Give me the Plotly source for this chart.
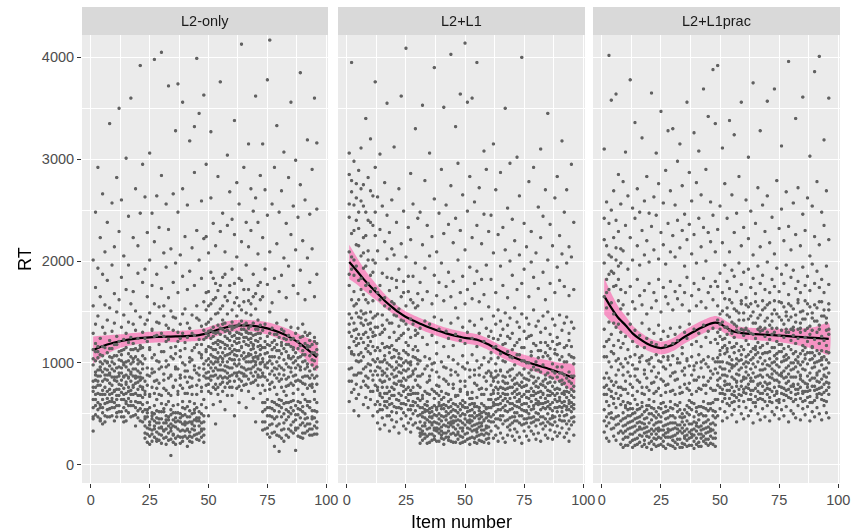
import plotly.graph_objects as go

# ---------------------------------------------------------------------------
# Reaction times (ms) per item, one row per item number 1..96, for each group
# ---------------------------------------------------------------------------
PANELS = ["L2-only", "L2+L1", "L2+L1prac"]

RT_L2_ONLY = [
    [980, 640, 470, 820, 1130, 1560, 2010, 720, 1290, 330, 560, 1040, 760, 450],
    [760, 1020, 580, 910, 1380, 2480, 690, 1190, 880, 1740, 640, 1110, 830, 490],
    [540, 870, 1050, 700, 1460, 1930, 820, 610, 2920, 1110, 930, 470, 780, 1160],
    [690, 930, 450, 1240, 1080, 780, 2230, 560, 1650, 960, 590, 1010, 870, 430],
    [820, 510, 1160, 730, 990, 1870, 640, 2660, 1350, 400, 690, 1070, 560, 910],
    [600, 880, 1020, 480, 1290, 760, 2090, 940, 1570, 690, 760, 1150, 420, 840],
    [930, 720, 540, 1100, 1420, 830, 650, 2380, 1810, 1010, 610, 1000, 880, 470],
    [470, 800, 1060, 620, 970, 1540, 3350, 740, 1220, 880, 900, 550, 1140, 690],
    [700, 1140, 560, 860, 1310, 940, 1960, 650, 2570, 1050, 480, 780, 1010, 620],
    [860, 610, 990, 430, 1180, 730, 1680, 920, 2140, 1390, 720, 1070, 560, 830],
    [580, 950, 740, 1070, 820, 1260, 510, 2820, 1500, 680, 860, 470, 1180, 640],
    [900, 680, 1210, 520, 1030, 790, 2290, 1620, 870, 3500, 580, 960, 740, 1110],
    [640, 1080, 830, 470, 950, 1350, 710, 1840, 1120, 2600, 900, 520, 780, 1020],
    [750, 560, 1000, 870, 1230, 640, 2050, 1470, 980, 420, 690, 1130, 470, 860],
    [880, 700, 530, 1150, 960, 1720, 810, 3010, 1290, 620, 1010, 600, 790, 430],
    [510, 930, 760, 1090, 650, 1400, 2440, 850, 1960, 1020, 860, 1200, 580, 720],
    [820, 620, 1130, 730, 990, 580, 1580, 3600, 910, 1250, 470, 890, 1060, 690],
    [690, 1040, 870, 480, 1190, 760, 2230, 1380, 940, 1700, 780, 580, 1010, 1130],
    [940, 560, 800, 1060, 700, 1320, 2710, 870, 1510, 380, 620, 1140, 490, 850],
    [610, 860, 1120, 740, 990, 1880, 530, 1240, 2150, 810, 1030, 680, 460, 920],
    [770, 1010, 550, 900, 1450, 680, 1170, 2470, 830, 3920, 610, 860, 1140, 430],
    [520, 850, 1070, 660, 1300, 940, 1790, 740, 2950, 1150, 760, 420, 990, 590],
    [380, 540, 260, 820, 1040, 1380, 450, 1920, 690, 2630, 310, 470, 720, 1240],
    [300, 470, 610, 950, 1210, 360, 1650, 2280, 780, 510, 220, 540, 880, 1420],
    [420, 280, 560, 870, 1130, 1490, 350, 2010, 3060, 670, 390, 200, 690, 1150],
    [510, 340, 230, 760, 1050, 1320, 450, 1760, 2470, 940, 300, 480, 900, 1330],
    [270, 430, 580, 910, 1260, 380, 1580, 2190, 700, 3980, 500, 350, 820, 1080],
    [460, 320, 640, 1020, 1400, 250, 1870, 530, 2640, 830, 230, 410, 750, 1270],
    [360, 520, 240, 800, 1180, 1550, 410, 2330, 690, 1010, 450, 300, 940, 1390],
    [290, 450, 600, 960, 1290, 370, 1730, 2840, 520, 4050, 360, 210, 680, 1110],
    [410, 260, 550, 890, 1110, 1460, 330, 2080, 750, 1260, 520, 340, 830, 1560],
    [480, 350, 200, 730, 1020, 1370, 590, 1940, 2560, 440, 270, 410, 960, 1210],
    [310, 470, 620, 980, 1230, 380, 1640, 2310, 850, 3720, 440, 240, 700, 1340],
    [250, 400, 540, 870, 1150, 1510, 330, 2120, 680, 90, 360, 490, 880, 1060],
    [440, 300, 580, 1040, 1320, 220, 1790, 2660, 770, 510, 290, 380, 760, 1450],
    [370, 510, 260, 830, 1090, 1440, 420, 1980, 3280, 960, 460, 200, 940, 1160],
    [280, 430, 590, 940, 1210, 350, 1690, 2480, 720, 3740, 350, 510, 690, 1300],
    [500, 330, 210, 780, 1060, 1380, 460, 2060, 880, 1240, 420, 270, 850, 1120],
    [340, 480, 620, 1000, 1290, 270, 1850, 2710, 560, 3560, 230, 400, 750, 1480],
    [420, 280, 550, 860, 1140, 1530, 390, 2240, 700, 980, 330, 490, 920, 1200],
    [260, 410, 570, 920, 1250, 340, 1720, 2550, 810, 180, 470, 350, 700, 1390],
    [470, 320, 620, 1010, 1340, 230, 1900, 530, 3180, 760, 280, 420, 860, 1050],
    [350, 500, 270, 850, 1120, 1470, 420, 2130, 690, 1030, 400, 220, 770, 1290],
    [290, 440, 600, 970, 1270, 380, 1760, 2870, 540, 3320, 510, 340, 930, 1150],
    [430, 300, 560, 900, 1180, 1560, 250, 2300, 780, 3990, 250, 460, 690, 1440],
    [380, 520, 240, 830, 1100, 1420, 460, 2010, 3450, 950, 430, 310, 880, 1230],
    [270, 410, 590, 1050, 1360, 330, 1830, 2590, 720, 1180, 350, 500, 760, 1080],
    [480, 350, 640, 990, 1230, 1600, 290, 2220, 870, 3630, 220, 420, 940, 1320],
    [780, 1020, 1250, 900, 1380, 560, 1690, 2240, 1130, 2950, 850, 1110, 1290, 1520],
    [910, 1160, 720, 1310, 1040, 1560, 2080, 480, 850, 1270, 980, 790, 1400, 1700],
    [1080, 830, 1240, 950, 700, 1430, 1890, 2620, 1150, 3270, 870, 1320, 1010, 1580],
    [760, 1190, 990, 1350, 870, 1620, 590, 2370, 1060, 1300, 1130, 920, 1260, 1830],
    [1010, 880, 1290, 740, 1130, 1480, 2150, 950, 400, 1780, 790, 1200, 1050, 1640],
    [850, 1220, 1040, 1370, 930, 690, 1710, 2830, 1180, 1010, 1100, 760, 1300, 1490],
    [1150, 790, 980, 1280, 1060, 1530, 2290, 870, 3760, 620, 930, 1210, 1340, 1760],
    [930, 1100, 720, 1330, 1200, 1010, 1840, 2470, 850, 1420, 810, 1040, 1380, 1560],
    [1070, 860, 1260, 970, 1390, 760, 1650, 2090, 540, 1180, 1140, 920, 1310, 1870],
    [800, 1170, 1010, 1320, 900, 1480, 2350, 1080, 3040, 680, 960, 1240, 850, 1610],
    [1220, 950, 1090, 760, 1360, 1140, 1760, 870, 2680, 1290, 1040, 820, 1300, 1690],
    [880, 1260, 1030, 1400, 950, 680, 1920, 2410, 1170, 1330, 760, 1110, 1360, 1520],
    [1130, 820, 1210, 990, 1350, 1080, 1590, 2260, 480, 3380, 900, 1270, 1030, 1780],
    [970, 1190, 750, 1300, 1070, 1460, 2040, 900, 1240, 2770, 1120, 870, 1360, 1640],
    [1240, 910, 1120, 1380, 840, 1030, 1830, 2560, 1290, 610, 990, 1200, 770, 1560],
    [820, 1070, 1280, 960, 1410, 1160, 2190, 4130, 730, 1520, 1150, 900, 1330, 1810],
    [1100, 950, 1330, 780, 1210, 1040, 1720, 2920, 1370, 890, 870, 1250, 1040, 1600],
    [930, 1250, 1060, 1390, 870, 1180, 1960, 2380, 560, 1310, 1010, 790, 1300, 1490],
    [1170, 840, 1290, 1010, 1340, 720, 1610, 2140, 1090, 3150, 940, 1230, 1070, 1720],
    [1010, 1200, 900, 1360, 1130, 1470, 2300, 800, 1240, 2710, 1080, 940, 1290, 1580],
    [870, 1140, 1270, 960, 650, 1390, 1870, 2490, 1050, 1180, 1170, 810, 1020, 1650],
    [1220, 980, 1100, 830, 1330, 1010, 1680, 2620, 420, 3620, 910, 1280, 1060, 1530],
    [940, 1160, 780, 1290, 1060, 1420, 2070, 880, 1210, 2380, 1040, 1330, 860, 1760],
    [1080, 860, 1240, 1000, 1370, 700, 1790, 2840, 1130, 990, 930, 1170, 1290, 1620],
    [420, 900, 1150, 610, 1320, 780, 1650, 2230, 1040, 3150, 520, 340, 1010, 870],
    [350, 980, 1210, 540, 860, 1380, 1920, 2700, 730, 1090, 420, 610, 1150, 960],
    [480, 830, 1100, 300, 1260, 640, 1770, 2450, 950, 3780, 360, 560, 1000, 1180],
    [560, 1020, 1290, 390, 890, 1170, 2090, 4170, 740, 1500, 480, 270, 790, 1060],
    [310, 920, 1130, 620, 1340, 810, 1590, 2560, 470, 1060, 550, 400, 1200, 990],
    [450, 1060, 760, 1220, 530, 950, 1830, 2920, 1150, 180, 320, 610, 880, 1280],
    [380, 850, 1180, 590, 1010, 1390, 2170, 690, 1280, 3330, 470, 290, 940, 1120],
    [520, 970, 1250, 280, 820, 1120, 1700, 2480, 640, 130, 400, 580, 1050, 890],
    [340, 1090, 760, 1200, 470, 950, 1860, 2690, 1330, 560, 630, 260, 1170, 840],
    [600, 880, 1140, 410, 1030, 1310, 2030, 3070, 720, 230, 350, 500, 930, 1240],
    [290, 990, 1230, 540, 840, 1110, 1640, 2370, 680, 1420, 440, 610, 1180, 770],
    [470, 1070, 780, 1180, 350, 960, 1950, 2820, 1270, 610, 270, 520, 860, 1050],
    [390, 910, 1160, 620, 1040, 1350, 2260, 500, 3560, 800, 560, 330, 1230, 950],
    [530, 1000, 1240, 310, 870, 1130, 1760, 2540, 700, 1060, 420, 630, 780, 1150],
    [440, 820, 1100, 580, 1290, 950, 2110, 2990, 360, 140, 340, 490, 1020, 880],
    [360, 1050, 740, 1210, 490, 980, 1680, 2430, 1340, 620, 550, 280, 1140, 830],
    [610, 930, 1170, 270, 1060, 820, 1910, 2750, 540, 3850, 390, 460, 960, 1250],
    [410, 860, 1260, 570, 1010, 1380, 2200, 690, 310, 1120, 260, 520, 800, 1080],
    [500, 1080, 790, 1190, 380, 940, 1620, 2600, 1300, 640, 450, 310, 1020, 870],
    [330, 990, 1150, 620, 870, 1270, 2030, 3190, 460, 750, 580, 400, 1170, 960],
    [560, 920, 1220, 400, 1070, 780, 1790, 2460, 290, 1160, 350, 620, 850, 1290],
    [450, 1030, 760, 1180, 530, 880, 2120, 2900, 350, 980, 470, 290, 1100, 790],
    [380, 850, 1100, 640, 1250, 460, 1650, 3600, 720, 1020, 300, 530, 940, 1210],
    [520, 960, 1190, 300, 790, 1080, 1870, 2510, 610, 3160, 420, 360, 870, 1130],
]

RT_L2_L1 = [
    [820, 1150, 1480, 1760, 2090, 2430, 2850, 620, 1300, 3060, 940, 1380, 1870, 2560],
    [950, 1260, 1620, 1920, 2270, 2680, 710, 1090, 3950, 1440, 1110, 820, 2040, 2790],
    [740, 1080, 1390, 1700, 2010, 2550, 2980, 530, 1210, 1860, 880, 1320, 1560, 2300],
    [1020, 1330, 1580, 880, 2160, 2760, 650, 1170, 2400, 1490, 790, 1240, 1950, 2620],
    [690, 1190, 1450, 1810, 2320, 1010, 2890, 480, 1620, 1280, 1080, 900, 2150, 2480],
    [900, 1240, 1510, 2050, 2590, 760, 1100, 1390, 3110, 1720, 1020, 1440, 1830, 2710],
    [1060, 820, 1370, 1670, 2230, 2750, 590, 1200, 1930, 1480, 940, 1280, 2080, 2540],
    [780, 1140, 1420, 1950, 2480, 960, 1300, 3400, 660, 1620, 870, 1490, 1760, 2250],
    [990, 1250, 850, 1590, 2100, 2820, 1170, 560, 1380, 1780, 1110, 760, 2010, 2400],
    [720, 1090, 1330, 1860, 2380, 920, 1500, 3200, 640, 1210, 980, 1390, 1700, 2690],
    [880, 1160, 1440, 720, 2010, 2640, 1030, 480, 1610, 1300, 830, 1260, 1890, 2350],
    [1010, 780, 1270, 1730, 2250, 2920, 590, 1120, 1460, 3760, 920, 1350, 1980, 2480],
    [620, 880, 1040, 760, 1350, 1690, 2100, 2630, 410, 1150, 520, 960, 730, 1480],
    [540, 950, 1120, 700, 1280, 1760, 2310, 350, 830, 3050, 680, 1010, 590, 1620],
    [810, 660, 1010, 1190, 1470, 1880, 2540, 460, 920, 1300, 540, 880, 760, 1370],
    [700, 1070, 580, 900, 1330, 1640, 2190, 2770, 390, 1150, 820, 620, 1030, 1560],
    [870, 620, 1160, 760, 1420, 2020, 2450, 480, 1000, 3550, 560, 940, 700, 1840],
    [590, 980, 720, 1100, 1250, 1710, 2280, 330, 840, 1530, 650, 1150, 480, 1390],
    [760, 520, 1050, 890, 1390, 1830, 2600, 440, 680, 2120, 960, 600, 1170, 1600],
    [930, 680, 570, 1130, 1300, 1580, 2060, 3120, 370, 800, 740, 860, 1060, 1470],
    [640, 1010, 790, 510, 1220, 1740, 2380, 420, 950, 1460, 870, 560, 1120, 1810],
    [820, 560, 1090, 700, 1360, 1920, 2710, 310, 980, 1240, 630, 910, 1050, 1530],
    [550, 900, 680, 1040, 1270, 1650, 2170, 450, 780, 3620, 970, 600, 820, 1420],
    [720, 1120, 600, 850, 1410, 1800, 2490, 380, 1000, 1290, 510, 930, 770, 1690],
    [480, 830, 1020, 660, 1200, 1560, 2040, 4090, 350, 920, 740, 590, 1100, 1380],
    [690, 540, 940, 1080, 1330, 1700, 2330, 410, 760, 1170, 860, 630, 1000, 1850],
    [580, 870, 450, 1010, 1250, 1620, 2210, 2860, 320, 730, 690, 980, 540, 1430],
    [760, 620, 1060, 500, 1380, 1850, 2560, 390, 890, 1130, 920, 700, 580, 1590],
    [530, 940, 700, 410, 1160, 1540, 1980, 3300, 830, 1270, 610, 830, 1050, 1320],
    [650, 480, 870, 1030, 1290, 1680, 2420, 360, 580, 990, 780, 1120, 700, 1560],
    [420, 280, 560, 350, 760, 1020, 1340, 1790, 2480, 630, 490, 310, 210, 870],
    [330, 510, 240, 470, 890, 680, 1250, 1620, 2160, 3530, 380, 560, 300, 650],
    [460, 300, 590, 380, 720, 1060, 1410, 1930, 2790, 540, 260, 410, 520, 940],
    [280, 440, 350, 530, 810, 970, 1180, 1700, 2350, 620, 440, 210, 580, 700],
    [510, 360, 220, 420, 690, 1040, 1380, 2050, 3060, 870, 300, 470, 550, 830],
    [390, 560, 300, 470, 930, 740, 1270, 1580, 2240, 460, 520, 240, 410, 990],
    [250, 420, 580, 340, 650, 1000, 1450, 1860, 2610, 3900, 360, 490, 280, 720],
    [480, 330, 410, 560, 780, 1090, 1200, 1660, 2090, 700, 230, 540, 360, 910],
    [350, 230, 500, 610, 860, 680, 1330, 1790, 2470, 400, 450, 310, 580, 770],
    [430, 290, 550, 370, 720, 1010, 1420, 1980, 2900, 580, 260, 480, 330, 640],
    [310, 470, 200, 590, 840, 660, 1160, 1610, 2270, 3510, 390, 550, 250, 960],
    [520, 380, 270, 440, 700, 950, 1310, 1750, 2550, 480, 310, 440, 580, 820],
    [240, 410, 560, 330, 790, 1060, 1240, 1890, 2360, 620, 500, 270, 370, 690],
    [460, 300, 390, 520, 640, 880, 1390, 1650, 2740, 4030, 230, 420, 570, 930],
    [370, 220, 480, 600, 750, 1030, 1170, 1800, 2180, 430, 310, 540, 410, 790],
    [290, 530, 350, 430, 910, 670, 1280, 1540, 2420, 3320, 470, 220, 590, 680],
    [440, 320, 570, 250, 680, 990, 1440, 2010, 2960, 510, 390, 510, 300, 880],
    [360, 480, 210, 540, 820, 720, 1220, 1690, 2300, 3640, 280, 430, 600, 740],
    [500, 270, 410, 330, 630, 1070, 1350, 1850, 2650, 580, 360, 570, 220, 960],
    [230, 390, 560, 450, 770, 940, 1190, 1580, 2110, 4140, 490, 300, 610, 820],
    [420, 310, 520, 360, 690, 1000, 1300, 1720, 2490, 3560, 250, 560, 430, 710],
    [350, 480, 260, 590, 860, 650, 1410, 1940, 2830, 440, 410, 200, 530, 930],
    [270, 430, 540, 380, 710, 1080, 1240, 1630, 2230, 3600, 330, 480, 600, 650],
    [510, 340, 220, 460, 800, 930, 1370, 1780, 2580, 600, 260, 390, 570, 880],
    [400, 280, 570, 320, 660, 1020, 1160, 1900, 2350, 3950, 480, 350, 210, 780],
    [290, 450, 370, 530, 880, 740, 1290, 1600, 2720, 490, 560, 240, 410, 950],
    [470, 230, 410, 600, 750, 980, 1430, 1820, 2170, 340, 300, 510, 380, 690],
    [340, 520, 290, 440, 690, 1050, 1210, 1670, 2460, 3080, 430, 220, 580, 860],
    [250, 380, 500, 360, 820, 900, 1340, 1960, 2900, 560, 310, 460, 550, 740],
    [430, 300, 560, 210, 640, 1010, 1260, 1550, 2290, 480, 370, 500, 260, 920],
    [330, 470, 560, 690, 780, 900, 1040, 1310, 1820, 2450, 420, 640, 870, 1100],
    [260, 420, 610, 730, 850, 580, 1150, 1460, 2080, 3150, 490, 700, 820, 1240],
    [380, 290, 520, 640, 920, 760, 990, 1380, 1690, 2700, 450, 590, 860, 1160],
    [450, 230, 700, 590, 810, 880, 1230, 1520, 2260, 540, 360, 650, 740, 1050],
    [310, 480, 540, 670, 760, 930, 1090, 1410, 1950, 2870, 600, 440, 920, 1270],
    [400, 260, 630, 820, 700, 560, 1180, 1330, 1760, 2330, 480, 750, 870, 1020],
    [220, 430, 580, 740, 860, 650, 1010, 1490, 2110, 3500, 530, 690, 800, 1190],
    [370, 290, 690, 520, 910, 800, 1260, 1370, 1640, 2520, 440, 620, 750, 1110],
    [460, 340, 600, 760, 650, 870, 1060, 1440, 2000, 2960, 390, 540, 930, 1240],
    [280, 410, 550, 700, 830, 940, 1130, 1290, 1860, 2410, 600, 470, 760, 1050],
    [350, 240, 660, 580, 790, 720, 980, 1540, 2200, 470, 510, 850, 430, 1170],
    [430, 320, 510, 740, 880, 620, 1200, 1400, 1720, 3020, 570, 690, 800, 1080],
    [270, 480, 640, 560, 700, 900, 1080, 1350, 2060, 2640, 410, 780, 620, 1230],
    [390, 210, 590, 810, 670, 760, 1150, 1480, 1780, 4000, 480, 540, 880, 1020],
    [330, 450, 530, 690, 850, 940, 1020, 1310, 1920, 2370, 600, 400, 770, 1150],
    [410, 280, 720, 600, 780, 660, 1240, 1440, 2140, 520, 450, 840, 530, 1000],
    [240, 370, 570, 650, 900, 830, 1000, 1380, 1650, 2780, 500, 720, 460, 1260],
    [460, 330, 620, 750, 540, 870, 1110, 1270, 1990, 2290, 410, 680, 930, 1070],
    [300, 420, 680, 580, 720, 800, 960, 1520, 1840, 2920, 550, 470, 860, 1190],
    [380, 250, 510, 640, 930, 770, 1170, 1360, 2080, 600, 440, 700, 820, 1010],
    [440, 310, 590, 710, 620, 850, 1050, 1410, 1730, 2530, 500, 760, 930, 1120],
    [230, 400, 660, 540, 790, 910, 1120, 1300, 2230, 3100, 470, 600, 720, 1200],
    [350, 470, 700, 600, 820, 690, 980, 1460, 1890, 2440, 560, 410, 780, 1060],
    [290, 380, 550, 760, 650, 880, 1200, 1340, 1620, 2700, 450, 610, 840, 1100],
    [420, 260, 620, 730, 570, 800, 1070, 1500, 2010, 3450, 500, 680, 900, 1170],
    [340, 450, 680, 590, 860, 720, 1140, 1280, 1780, 2360, 400, 550, 810, 1040],
    [250, 390, 530, 700, 770, 920, 990, 1430, 2150, 480, 610, 460, 850, 1210],
    [470, 320, 640, 560, 810, 680, 1090, 1370, 1690, 2620, 420, 740, 900, 1130],
    [380, 280, 700, 620, 750, 860, 1180, 1250, 1940, 2830, 520, 560, 960, 1080],
    [310, 440, 570, 740, 660, 900, 1030, 1470, 1810, 2250, 480, 820, 630, 1190],
    [430, 360, 610, 520, 790, 830, 960, 1320, 2070, 3180, 560, 700, 900, 1060],
    [270, 480, 690, 580, 720, 880, 1150, 1390, 1750, 2480, 430, 620, 800, 1010],
    [400, 310, 540, 660, 850, 760, 1010, 1450, 1980, 2700, 490, 720, 570, 1170],
    [350, 230, 630, 710, 600, 910, 1220, 1290, 1660, 2140, 430, 820, 540, 1080],
    [460, 390, 570, 800, 680, 740, 1060, 1400, 2040, 2950, 520, 610, 870, 1160],
    [290, 420, 660, 550, 770, 870, 990, 1340, 1720, 2380, 470, 590, 720, 1050],
]

RT_L2_L1PRAC = [
    [320, 540, 690, 850, 1060, 1330, 1650, 1980, 2420, 3100, 430, 760, 1160, 2210],
    [260, 470, 620, 900, 780, 1210, 1540, 2150, 2580, 1820, 380, 690, 1060, 1690],
    [410, 230, 580, 740, 1010, 1400, 1720, 2060, 2370, 4020, 500, 850, 1230, 1870],
    [350, 510, 670, 820, 960, 1280, 1590, 1900, 2500, 3580, 460, 720, 1110, 2040],
    [280, 450, 600, 780, 1090, 1170, 1480, 2230, 2690, 1880, 360, 650, 1390, 1750],
    [390, 560, 240, 880, 700, 1350, 1760, 2010, 2400, 3640, 470, 810, 1020, 2130],
    [310, 480, 650, 930, 1040, 1220, 1610, 1950, 2290, 2850, 400, 760, 1380, 1820],
    [200, 430, 590, 760, 990, 1300, 1530, 2120, 2560, 1720, 330, 680, 1150, 1980],
    [250, 380, 510, 620, 740, 960, 1190, 1570, 2100, 2780, 310, 450, 170, 880],
    [330, 190, 460, 580, 820, 1040, 1260, 1690, 2350, 3070, 270, 390, 560, 740],
    [410, 270, 540, 350, 700, 910, 1130, 1480, 1920, 2640, 190, 480, 610, 1000],
    [220, 360, 480, 600, 790, 1060, 1380, 1750, 2230, 3780, 300, 420, 550, 870],
    [300, 430, 170, 550, 680, 980, 1210, 1600, 2010, 2520, 370, 240, 500, 760],
    [380, 250, 510, 640, 870, 1080, 1320, 1530, 2420, 3360, 190, 320, 450, 940],
    [200, 340, 460, 590, 720, 940, 1160, 1820, 2150, 2710, 410, 260, 540, 830],
    [290, 420, 550, 370, 810, 1010, 1270, 1660, 1960, 2480, 220, 350, 470, 1050],
    [350, 180, 490, 610, 760, 1070, 1390, 1570, 2300, 3210, 280, 410, 570, 700],
    [240, 400, 520, 310, 690, 930, 1150, 1710, 2060, 2590, 450, 200, 360, 890],
    [370, 280, 460, 580, 850, 1020, 1240, 1480, 2200, 2830, 320, 170, 540, 760],
    [210, 330, 500, 640, 730, 990, 1330, 1780, 1990, 2470, 270, 410, 580, 1030],
    [300, 440, 150, 560, 800, 1050, 1200, 1540, 2340, 3650, 350, 230, 500, 920],
    [390, 260, 480, 620, 700, 960, 1290, 1690, 2110, 2630, 200, 330, 550, 810],
    [180, 350, 520, 410, 860, 1080, 1180, 1610, 2450, 3060, 300, 460, 250, 720],
    [270, 420, 560, 330, 750, 900, 1370, 1820, 2020, 2760, 190, 360, 490, 1020],
    [340, 200, 470, 600, 680, 1010, 1230, 1500, 2280, 3470, 260, 420, 550, 840],
    [230, 380, 510, 290, 820, 1060, 1310, 1740, 2160, 2570, 340, 180, 610, 960],
    [310, 450, 160, 570, 710, 940, 1170, 1650, 1970, 2890, 270, 390, 520, 780],
    [400, 270, 530, 350, 790, 1030, 1260, 1580, 2370, 3280, 200, 320, 460, 1060],
    [190, 340, 480, 620, 870, 980, 1340, 1800, 2090, 2690, 410, 270, 560, 720],
    [280, 410, 550, 240, 730, 1070, 1190, 1520, 2250, 3300, 180, 350, 480, 900],
    [360, 220, 460, 590, 690, 910, 1280, 1700, 2040, 2550, 290, 410, 160, 830],
    [250, 390, 520, 310, 840, 1040, 1220, 1630, 2400, 2980, 350, 200, 580, 1000],
    [330, 170, 470, 610, 760, 1000, 1350, 1760, 2130, 3150, 250, 390, 540, 700],
    [210, 360, 500, 420, 710, 1090, 1150, 1570, 2300, 2740, 310, 170, 460, 920],
    [390, 280, 540, 260, 880, 950, 1300, 1690, 1950, 2460, 200, 330, 470, 790],
    [240, 430, 580, 350, 750, 1020, 1240, 1840, 2210, 3560, 290, 180, 510, 1040],
    [320, 190, 490, 630, 800, 970, 1380, 1510, 2360, 2870, 400, 260, 560, 730],
    [270, 400, 540, 300, 690, 1060, 1180, 1660, 2070, 2590, 190, 340, 610, 880],
    [350, 230, 470, 600, 830, 930, 1330, 1780, 2260, 3260, 290, 420, 160, 970],
    [200, 380, 520, 410, 720, 1000, 1210, 1560, 1980, 2770, 260, 330, 560, 830],
    [300, 440, 180, 570, 860, 1080, 1290, 1720, 2420, 3080, 220, 370, 490, 750],
    [380, 260, 500, 340, 740, 950, 1160, 1600, 2140, 2650, 300, 180, 570, 1010],
    [230, 350, 560, 620, 780, 1030, 1370, 1830, 2330, 3690, 410, 280, 480, 860],
    [310, 420, 210, 480, 700, 990, 1250, 1540, 2000, 2900, 250, 360, 550, 780],
    [370, 250, 530, 600, 820, 1060, 1310, 1690, 2280, 3420, 190, 320, 440, 960],
    [280, 400, 550, 330, 750, 920, 1200, 1750, 2190, 2580, 350, 210, 600, 850],
    [340, 200, 480, 610, 890, 1040, 1340, 1620, 2450, 3880, 260, 410, 530, 730],
    [260, 390, 520, 640, 730, 1010, 1230, 1800, 2090, 3350, 310, 180, 460, 940],
    [640, 780, 900, 1050, 1190, 480, 1420, 1750, 2310, 3920, 830, 1010, 1300, 1560],
    [700, 850, 960, 1120, 1260, 550, 1380, 1880, 2540, 1010, 760, 1080, 1330, 1480],
    [620, 740, 1010, 880, 1230, 430, 1510, 1690, 2180, 3110, 940, 1150, 700, 1400],
    [690, 820, 940, 1090, 1170, 520, 1350, 1960, 2760, 780, 880, 1240, 650, 1630],
    [730, 600, 1000, 870, 1280, 460, 1470, 1800, 2420, 1140, 790, 1110, 1350, 1540],
    [650, 790, 920, 1060, 1200, 580, 1620, 1730, 2090, 3380, 730, 990, 1320, 1450],
    [610, 860, 1030, 760, 1150, 490, 1400, 1910, 2650, 980, 950, 690, 1290, 1590],
    [720, 680, 970, 1100, 1250, 540, 1530, 1850, 2280, 3240, 840, 1160, 620, 1380],
    [660, 810, 890, 1040, 1190, 420, 1360, 1700, 2470, 820, 770, 990, 1320, 1510],
    [740, 630, 1020, 930, 1300, 570, 1490, 1980, 2830, 1120, 880, 1120, 690, 1420],
    [680, 770, 950, 1080, 1160, 500, 1580, 1770, 2150, 3560, 820, 1030, 1330, 1610],
    [620, 840, 990, 860, 1270, 450, 1420, 1890, 2330, 740, 710, 1130, 1320, 1490],
    [700, 760, 910, 1060, 1220, 560, 1330, 1640, 2600, 1010, 850, 960, 1340, 1570],
    [640, 880, 1000, 790, 1180, 480, 1550, 1920, 2220, 3020, 750, 1080, 1310, 1430],
    [730, 690, 940, 1110, 1290, 530, 1460, 1740, 2490, 850, 820, 1030, 640, 1580],
    [610, 820, 1050, 900, 1140, 410, 1390, 1830, 2060, 3750, 730, 990, 1280, 1500],
    [670, 750, 960, 1080, 1240, 570, 1600, 1680, 2370, 1160, 860, 1130, 610, 1390],
    [720, 640, 1010, 870, 1200, 500, 1440, 1950, 2720, 780, 790, 1100, 1330, 1560],
    [650, 800, 930, 1050, 1310, 440, 1350, 1780, 2140, 3280, 880, 1150, 700, 1470],
    [700, 860, 990, 770, 1170, 550, 1520, 1860, 2550, 1090, 640, 930, 1320, 1610],
    [620, 730, 1020, 940, 1260, 470, 1410, 1720, 2290, 940, 810, 1100, 1340, 1540],
    [690, 790, 880, 1100, 1190, 580, 1570, 1990, 2640, 3570, 750, 980, 1300, 1440],
    [740, 660, 970, 1040, 1230, 430, 1370, 1690, 2180, 800, 860, 1110, 620, 1590],
    [610, 850, 1000, 890, 1280, 520, 1480, 1820, 2430, 1150, 720, 940, 1340, 1410],
    [680, 760, 920, 1070, 1150, 490, 1610, 1750, 2070, 3690, 830, 1010, 1300, 1520],
    [720, 630, 1040, 830, 1210, 560, 1340, 1930, 2790, 980, 900, 1090, 700, 1480],
    [640, 810, 960, 1110, 1270, 450, 1450, 1700, 2320, 770, 880, 1180, 610, 1600],
    [700, 870, 900, 1010, 1180, 540, 1590, 1870, 2510, 3130, 760, 1110, 1320, 1420],
    [630, 750, 1020, 920, 1250, 480, 1380, 1780, 2200, 1060, 850, 1140, 690, 1550],
    [730, 680, 950, 1080, 1300, 570, 1500, 1960, 2680, 860, 800, 1030, 1330, 1460],
    [660, 820, 890, 1050, 1160, 420, 1420, 1670, 2340, 3960, 740, 970, 1300, 1580],
    [710, 770, 1000, 860, 1220, 530, 1560, 1840, 2110, 1130, 650, 930, 1330, 1450],
    [620, 860, 940, 1090, 1270, 500, 1350, 1910, 2570, 790, 770, 1000, 1320, 1530],
    [690, 640, 1030, 960, 1190, 460, 1470, 1730, 2260, 3400, 860, 1110, 740, 1400],
    [740, 790, 910, 1060, 1240, 580, 1620, 1800, 2720, 1010, 700, 1000, 1330, 1590],
    [650, 840, 980, 880, 1300, 440, 1390, 1690, 2150, 870, 760, 1090, 1340, 1500],
    [700, 720, 1010, 1120, 1170, 550, 1510, 1940, 2460, 3610, 820, 940, 620, 1430],
    [630, 800, 930, 1040, 1250, 490, 1430, 1760, 2300, 1080, 720, 1150, 1320, 1610],
    [720, 660, 990, 870, 1210, 570, 1580, 1850, 2620, 760, 790, 1100, 1340, 1480],
    [670, 830, 900, 1100, 1280, 430, 1360, 1710, 2050, 3030, 730, 1030, 610, 1550],
    [610, 770, 1040, 950, 1160, 520, 1490, 1970, 2540, 1150, 850, 1100, 1320, 1440],
    [730, 850, 960, 1070, 1230, 470, 1410, 1780, 2240, 3860, 770, 1000, 630, 1570],
    [660, 690, 1010, 820, 1300, 560, 1540, 1900, 2780, 900, 880, 1120, 740, 1410],
    [700, 810, 920, 1090, 1190, 500, 1370, 1740, 2160, 4010, 750, 1020, 1330, 1600],
    [640, 760, 980, 1050, 1260, 440, 1600, 1820, 2480, 1030, 840, 1120, 690, 1460],
    [710, 870, 940, 880, 1220, 580, 1460, 1690, 2350, 3190, 790, 1060, 630, 1520],
    [620, 730, 1030, 1110, 1170, 510, 1390, 1950, 2690, 810, 860, 950, 1320, 1440],
    [690, 800, 900, 1000, 1280, 460, 1520, 1770, 2210, 3600, 760, 1100, 1330, 1580],
]

# Loess fit (ms) and its standard-error half width, evaluated on a grid of items
FIT_ITEMS = [1, 4, 7, 10, 13, 16, 19, 22, 25, 28, 31, 34, 38, 42, 46, 48,
             50, 53, 56, 60, 65, 70, 75, 80, 85, 90, 96]
FIT_L2_ONLY = [1125, 1155, 1180, 1200, 1215, 1228, 1238, 1245, 1250, 1254,
               1256, 1258, 1261, 1265, 1273, 1282, 1295, 1318, 1340, 1362,
               1368, 1360, 1338, 1300, 1245, 1170, 1055]
SE_L2_ONLY = [135, 110, 90, 75, 65, 60, 57, 55, 55, 55, 55, 55, 55, 55, 56,
              57, 58, 58, 57, 56, 55, 56, 60, 66, 76, 95, 135]
FIT_L2_L1 = [1990, 1910, 1825, 1750, 1680, 1610, 1550, 1495, 1450, 1415,
             1385, 1355, 1320, 1290, 1265, 1255, 1245, 1235, 1220, 1180,
             1115, 1060, 1015, 980, 945, 905, 850]
SE_L2_L1 = [170, 135, 110, 90, 75, 66, 60, 57, 55, 55, 55, 55, 55, 55, 55,
            55, 55, 55, 55, 55, 58, 60, 64, 70, 80, 95, 130]
FIT_L2_L1PRAC = [1655, 1540, 1440, 1370, 1290, 1235, 1190, 1160, 1145, 1160,
                 1190, 1240, 1295, 1345, 1385, 1395, 1385, 1340, 1305, 1290,
                 1282, 1275, 1268, 1260, 1252, 1245, 1235]
SE_L2_L1PRAC = [180, 140, 110, 90, 78, 70, 66, 64, 63, 63, 64, 65, 66, 66, 66,
                66, 65, 64, 62, 60, 60, 62, 66, 74, 88, 108, 155]

PANEL_DATA = [
    (RT_L2_ONLY, FIT_L2_ONLY, SE_L2_ONLY),
    (RT_L2_L1, FIT_L2_L1, SE_L2_L1),
    (RT_L2_L1PRAC, FIT_L2_L1PRAC, SE_L2_L1PRAC),
]

X_TICKS = [0, 25, 50, 75, 100]
Y_TICKS = [0, 1000, 2000, 3000, 4000]

# ---------------------------------------------------------------------------
# Layout geometry (ggplot2 grey theme look)
# ---------------------------------------------------------------------------
W, H = 856, 532
M_L, M_R, M_T, M_B = 82, 16, 7, 49
STRIP_H = 28
PLOT_W = W - M_L - M_R
PLOT_H = H - M_T - M_B
panel_px = [(82, 328), (338, 585), (593, 840)]
domains = [[(a - M_L) / PLOT_W, (b - M_L) / PLOT_W] for a, b in panel_px]
y_top = (PLOT_H - STRIP_H) / PLOT_H

FONT = "Liberation Sans, Arial, Helvetica, sans-serif"
POINT_COL = "#616161"
RIBBON_COL = "rgba(255, 50, 150, 0.48)"

fig = go.Figure()

for i, (rows, fit, se) in enumerate(PANEL_DATA):
    xa = "x" if i == 0 else f"x{i + 1}"
    ya = "y" if i == 0 else f"y{i + 1}"
    xs, ys = [], []
    for item, vals in enumerate(rows, start=1):
        xs.extend([item] * len(vals))
        ys.extend(vals)
    fig.add_trace(go.Scattergl(
        x=xs, y=ys, mode="markers", xaxis=xa, yaxis=ya,
        marker=dict(size=3.6, color=POINT_COL, line=dict(width=0)),
        hoverinfo="skip", showlegend=False,
    ))
    upper = [f + s for f, s in zip(fit, se)]
    lower = [f - s for f, s in zip(fit, se)]
    fig.add_trace(go.Scatter(
        x=FIT_ITEMS + FIT_ITEMS[::-1], y=upper + lower[::-1],
        mode="lines", fill="toself", fillcolor=RIBBON_COL,
        line=dict(width=0, shape="spline", smoothing=0.6),
        xaxis=xa, yaxis=ya, hoverinfo="skip", showlegend=False,
    ))
    fig.add_trace(go.Scatter(
        x=FIT_ITEMS, y=fit, mode="lines",
        line=dict(color="#000000", width=2.2, shape="spline", smoothing=0.6),
        xaxis=xa, yaxis=ya, hoverinfo="skip", showlegend=False,
    ))

axis_common = dict(
    showgrid=True, gridcolor="#FFFFFF", gridwidth=1.1, zeroline=False,
    showline=False, ticks="outside", ticklen=4, tickwidth=1.1,
    tickcolor="#333333", tickfont=dict(family=FONT, size=14.5, color="#4D4D4D"),
)

layout = dict(
    width=W, height=H,
    margin=dict(l=M_L, r=M_R, t=M_T, b=M_B, pad=0),
    paper_bgcolor="#FFFFFF", plot_bgcolor="#EBEBEB",
    font=dict(family=FONT),
    showlegend=False,
)

for i in range(3):
    xk = "xaxis" if i == 0 else f"xaxis{i + 1}"
    yk = "yaxis" if i == 0 else f"yaxis{i + 1}"
    xa_anchor = "y" if i == 0 else f"y{i + 1}"
    ya_anchor = "x" if i == 0 else f"x{i + 1}"
    layout[xk] = dict(
        axis_common, domain=domains[i], anchor=xa_anchor,
        range=[-3.75, 100.75], tickmode="array", tickvals=X_TICKS,
        ticktext=[str(v) for v in X_TICKS],
        minor=dict(tickmode="array", tickvals=[12.5, 37.5, 62.5, 87.5],
                   showgrid=True, gridcolor="#FFFFFF", gridwidth=0.55, ticks=""),
    )
    layout[yk] = dict(
        axis_common, domain=[0, y_top], anchor=ya_anchor,
        range=[-180, 4220], tickmode="array", tickvals=Y_TICKS,
        ticktext=[str(v) for v in Y_TICKS],
        showticklabels=(i == 0), ticks="outside" if i == 0 else "",
        minor=dict(tickmode="array", tickvals=[500, 1500, 2500, 3500],
                   showgrid=True, gridcolor="#FFFFFF", gridwidth=0.55, ticks=""),
    )

fig.update_layout(**layout)

# facet strips
for i, name in enumerate(PANELS):
    d0, d1 = domains[i]
    fig.add_shape(type="rect", xref="paper", yref="paper",
                  x0=d0, x1=d1, y0=y_top, y1=1.0,
                  fillcolor="#D9D9D9", line=dict(width=0), layer="below")
    fig.add_annotation(x=(d0 + d1) / 2, y=(y_top + 1.0) / 2, xref="paper",
                       yref="paper", text=name, showarrow=False,
                       xanchor="center", yanchor="middle",
                       font=dict(family=FONT, size=14.5, color="#1A1A1A"))

# axis titles
fig.add_annotation(x=0.5, y=(483 - 522) / PLOT_H, xref="paper", yref="paper",
                   text="Item number", showarrow=False, xanchor="center",
                   yanchor="middle", font=dict(family=FONT, size=18, color="#000000"))
fig.add_annotation(x=(25 - M_L) / PLOT_W, y=(483 - 259) / PLOT_H, xref="paper",
                   yref="paper", text="RT", showarrow=False, textangle=-90,
                   xanchor="center", yanchor="middle",
                   font=dict(family=FONT, size=18, color="#000000"))

fig.write_html("out.html")
